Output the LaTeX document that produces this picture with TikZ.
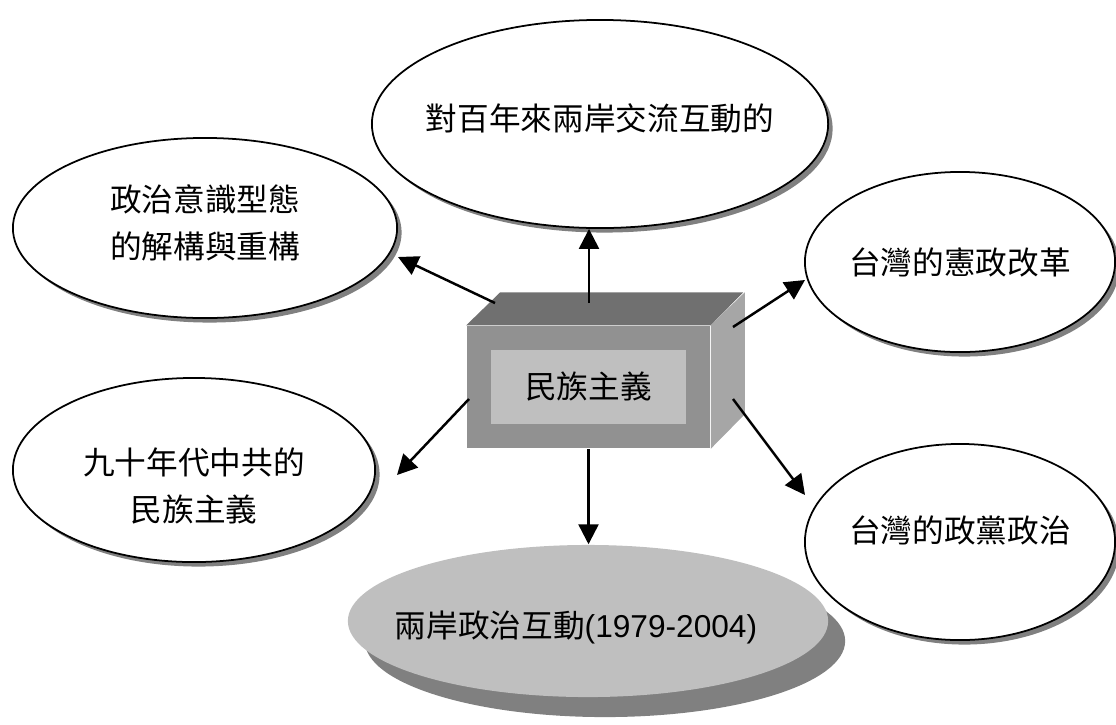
\documentclass[tikz,border=0pt]{standalone}
\usepackage{fontspec}
\setmainfont{Liberation Sans}
\newfontfamily\cjk{Noto Sans CJK TC}
\usetikzlibrary{shapes.geometric,shadows,arrows.meta}
\definecolor{faceFront}{gray}{0.57}
\definecolor{faceTop}{gray}{0.44}
\definecolor{faceSide}{gray}{0.65}
\definecolor{faceInner}{gray}{0.75}
\definecolor{shadowGray}{gray}{0.5}
\begin{document}
\begin{tikzpicture}[x=0.01cm,y=-0.01cm]
\tikzstyle{every node}+=[inner sep=0pt, font=\fontsize{9}{13.4}\selectfont\cjk, align=center]
\tikzstyle{bubble}=[ellipse, draw=black, line width=0.5pt, fill=white, drop shadow={shadow xshift=0.45mm, shadow yshift=-0.45mm, fill=shadowGray, opacity=1}]
\tikzstyle{link}=[black, line width=0.7pt, -{Triangle[length=2mm,width=2mm]}]
\useasboundingbox (0,0) rectangle (1116,724);
\node [bubble, minimum width=45.6mm, minimum height=20.8mm, label={[yshift=0.6mm]center:對百年來兩岸交流互動的}] (hundred) at (600,124) {};
\node [bubble, minimum width=38.4mm, minimum height=18mm, label={[yshift=0.5mm]center:政治意識型態\\的解構與重構}] (ideology) at (205,228) {};
\node [bubble, minimum width=31mm, minimum height=18mm, label={center:台灣的憲政改革}] (reform) at (960,262) {};
\node [bubble, minimum width=36.2mm, minimum height=18.4mm, label={[yshift=-1.6mm]center:九十年代中共的\\民族主義}] (prc) at (194,470) {};
\node [bubble, minimum width=31mm, minimum height=19.6mm, label={[yshift=1.2mm]center:台灣的政黨政治}] (party) at (960,542) {};
\node [ellipse, fill=faceInner, minimum width=48mm, minimum height=15.2mm, drop shadow={shadow xshift=1.7mm, shadow yshift=-2mm, fill=shadowGray, opacity=1}, label={[xshift=-1.2mm, yshift=-0.6mm]center:兩岸政治互動{\rmfamily(1979-2004)}}] (relations) at (588,621) {};
\node [fill=faceFront, minimum width=24.3mm, minimum height=12.2mm] (core) at (588.5,387) {};
\fill [faceTop] (core.north west) -- ++(34,-33) -- ++(243,0) -- (core.north east) -- cycle;
\fill [faceSide] (core.north east) -- ++(34,-33) -- ++(0,122) -- (core.south east) -- cycle;
\node [fill=faceInner, minimum width=19.5mm, minimum height=7.3mm] (coreLabel) at (core) {民族主義};
\coordinate (topFoot) at (589,303);
\coordinate (ulFoot) at (495,303);
\coordinate (ulHead) at (398,257);
\coordinate (urFoot) at (733,327);
\coordinate (urHead) at (805,280);
\coordinate (llFoot) at (469,399);
\coordinate (llHead) at (397,475);
\coordinate (lrFoot) at (733,399);
\coordinate (lrHead) at (805,495);
\draw [link] (topFoot) -- (topFoot |- hundred.south);
\draw [link] (ulFoot) -- (ulHead);
\draw [link] (urFoot) -- (urHead);
\draw [link] (llFoot) -- (llHead);
\draw [link] (lrFoot) -- (lrHead);
\draw [link] (core.south) -- (core.south |- relations.north);
\end{tikzpicture}
\end{document}
